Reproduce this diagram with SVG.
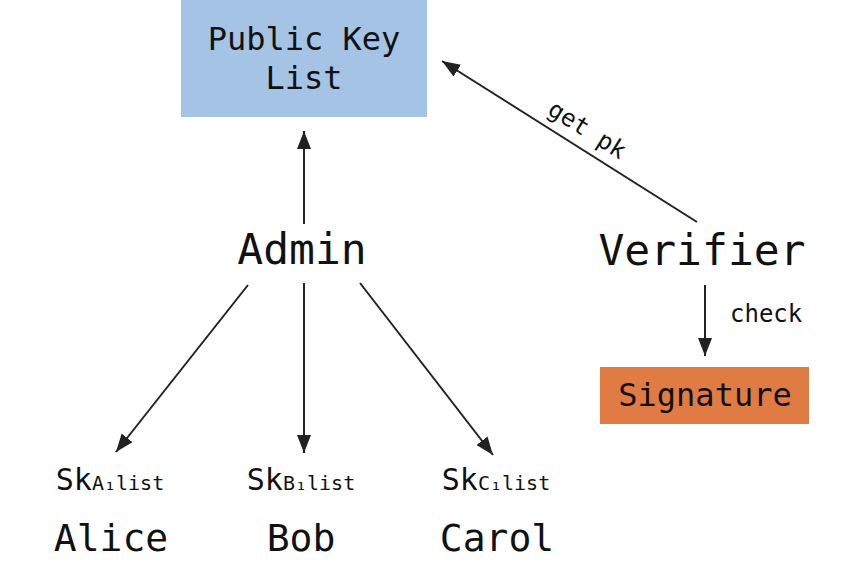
<svg xmlns="http://www.w3.org/2000/svg" width="862" height="583" viewBox="0 0 862 583">
<defs>
<style>
text{font-family:"DejaVu Sans Mono","Liberation Mono",monospace;fill:#111;}
.big{font-size:43px;text-anchor:middle;}
.box{font-size:32px;text-anchor:middle;}
.name{font-size:38px;text-anchor:middle;}
.sk{font-size:30px;text-anchor:middle;}
.sub{font-size:20px;}
.lbl{font-size:24px;}
.conn line{stroke:#222;stroke-width:2;marker-end:url(#ah);}
</style>
<marker id="ah" markerUnits="userSpaceOnUse" markerWidth="20" markerHeight="16" refX="18" refY="7" orient="auto">
<path d="M0,0 L18,7 L0,14 z" fill="#222"/>
</marker>
</defs>
<rect width="862" height="583" fill="#fff"/>
<g id="pkl">
<rect x="181" y="0" width="246" height="117" fill="#A5C3E4"/>
<text class="box" x="304" y="50">Public Key</text>
<text class="box" x="304" y="89">List</text>
</g>
<g id="admin"><text class="big" x="302" y="264">Admin</text></g>
<g id="verifier"><text class="big" x="702" y="265">Verifier</text></g>
<g id="signature">
<rect x="600" y="367" width="209" height="57" fill="#E07C43"/>
<text class="box" x="705" y="406">Signature</text>
</g>
<g id="alice">
<text class="sk" x="110" y="490">Sk<tspan class="sub">A₁list</tspan></text>
<text class="name" x="111" y="551">Alice</text>
</g>
<g id="bob">
<text class="sk" x="301" y="490">Sk<tspan class="sub">B₁list</tspan></text>
<text class="name" x="301" y="551">Bob</text>
</g>
<g id="carol">
<text class="sk" x="496" y="490">Sk<tspan class="sub">C₁list</tspan></text>
<text class="name" x="497" y="551">Carol</text>
</g>
<g id="connectors" class="conn">
<line x1="304" y1="224" x2="304" y2="131"/>
<line x1="248" y1="285" x2="116" y2="452"/>
<line x1="304" y1="283" x2="304" y2="453"/>
<line x1="360" y1="283" x2="493" y2="455"/>
<line x1="697" y1="222" x2="442" y2="61"/>
<line x1="705" y1="285" x2="705" y2="356"/>
<text class="lbl" x="730" y="322">check</text>
<text class="lbl" text-anchor="middle" transform="translate(583,136.5) rotate(32.2)">get pk</text>
</g>
</svg>
